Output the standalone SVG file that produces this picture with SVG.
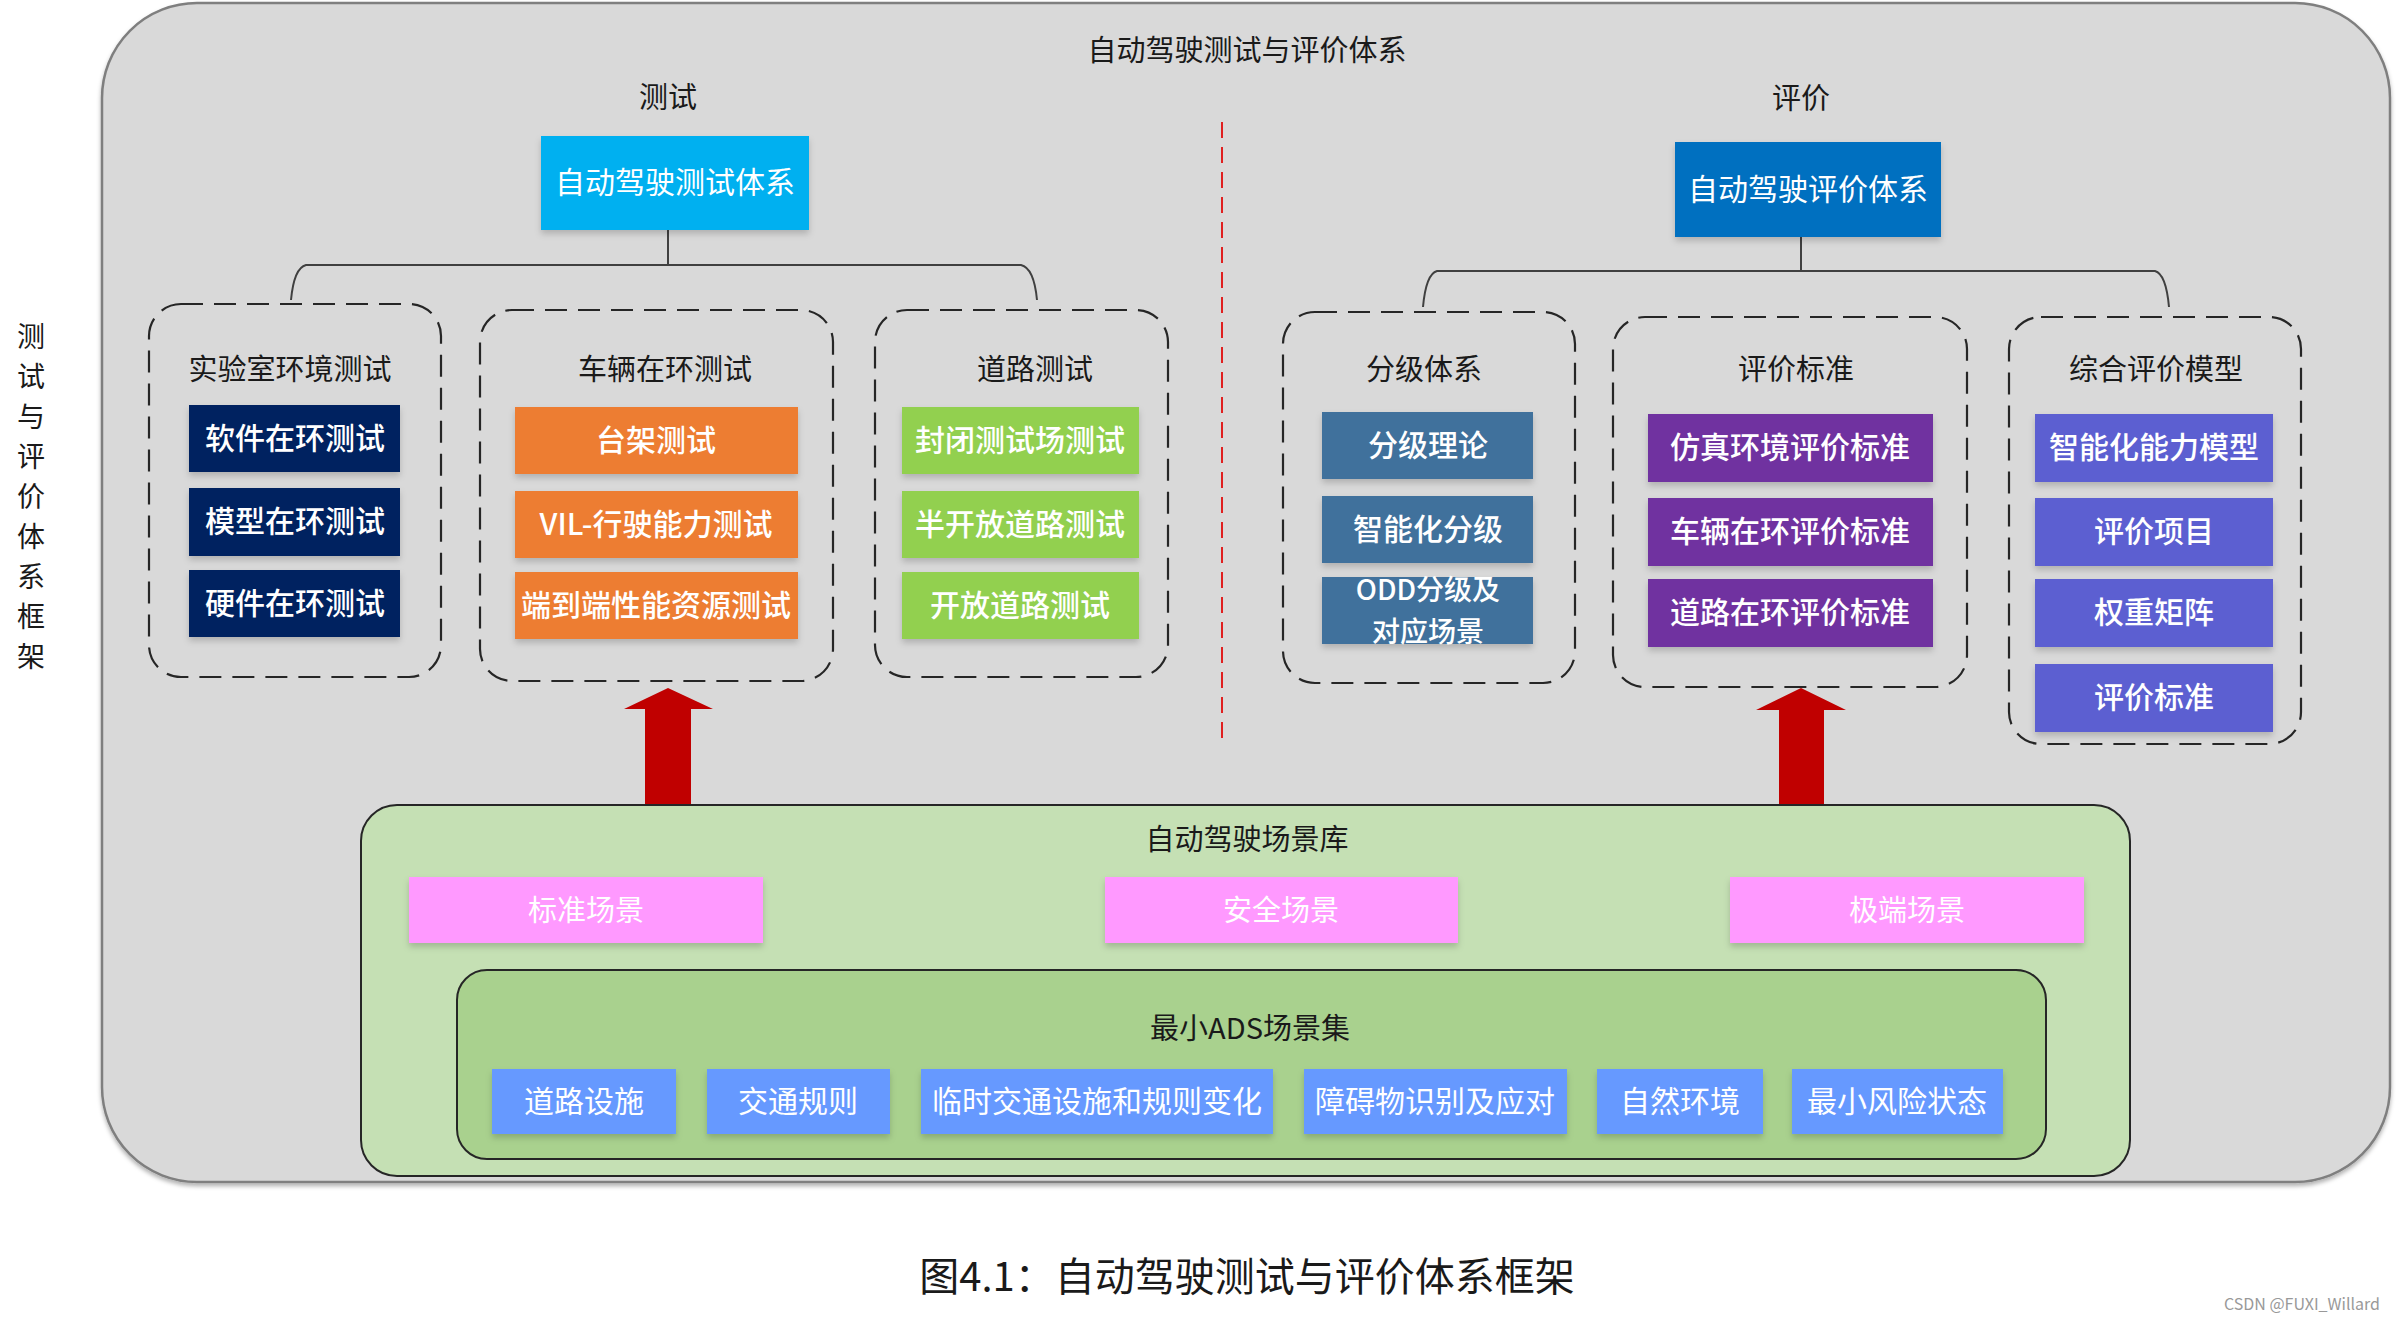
<svg xmlns="http://www.w3.org/2000/svg" width="2398" height="1322" viewBox="0 0 2398 1322">
<defs>
<filter id="sh" x="-10%" y="-20%" width="120%" height="150%">
<feDropShadow dx="0" dy="4" stdDeviation="3" flood-color="#000" flood-opacity="0.18"/>
</filter>
<filter id="bgsh" x="-5%" y="-5%" width="110%" height="110%">
<feDropShadow dx="0" dy="3" stdDeviation="2" flood-color="#000" flood-opacity="0.3"/>
</filter>
</defs>
<style>
text{font-family:"Noto Sans CJK SC","Noto Sans",sans-serif;text-anchor:middle;dominant-baseline:central}
.t{font-size:29px;fill:#1a1a1a}
.b{font-size:30px;fill:#fff;font-weight:500}
.w{font-size:29px;fill:#fff}
.dash{fill:none;stroke:#262626;stroke-width:2.2;stroke-dasharray:22 11}
.box{filter:url(#sh)}
.navy{fill:#002060}.orange{fill:#ed7d31}.green{fill:#92d050}
.steel{fill:#41719c}.purple{fill:#7030a0}.peri{fill:#5b5fd1}
.pink{fill:#ff99ff}.ads{fill:#6699ff}
.ln{fill:none;stroke:#404040;stroke-width:2}
.arrow{fill:#c00000}
</style>
<rect width="2398" height="1322" fill="#fff"/>

<g id="background">
<rect x="102" y="3" width="2288" height="1179" rx="95" ry="95" fill="#d9d9d9" stroke="#7f7f7f" stroke-width="2.5" filter="url(#bgsh)"/>
<text class="t" x="1247" y="48">自动驾驶测试与评价体系</text>
<text class="t" x="668" y="95">测试</text>
<text class="t" x="1801" y="96">评价</text>
</g>

<g id="side-label">
<text class="t" x="31" y="335" style="font-size:28px">测</text>
<text class="t" x="31" y="375" style="font-size:28px">试</text>
<text class="t" x="31" y="415" style="font-size:28px">与</text>
<text class="t" x="31" y="455" style="font-size:28px">评</text>
<text class="t" x="31" y="495" style="font-size:28px">价</text>
<text class="t" x="31" y="535" style="font-size:28px">体</text>
<text class="t" x="31" y="575" style="font-size:28px">系</text>
<text class="t" x="31" y="615" style="font-size:28px">框</text>
<text class="t" x="31" y="655" style="font-size:28px">架</text>
</g>

<g id="connectors">
<line x1="1222" y1="122" x2="1222" y2="746" stroke="#e02020" stroke-width="2" stroke-dasharray="16 9"/>
<path class="ln" d="M668,230 V265"/>
<path class="ln" d="M291,300 Q294,268 306,265 H1021 Q1034,268 1037,300"/>
<path class="ln" d="M1801,237 V271"/>
<path class="ln" d="M1423,307 Q1426,274 1437,271 H2155 Q2166,274 2169,307"/>
<polygon class="arrow" points="668,688 713,709 691,709 691,806 645,806 645,709 624,709"/>
<polygon class="arrow" points="1801,688 1846,710 1824,710 1824,806 1779,806 1779,710 1756,710"/>
</g>

<g id="test-system">
<rect class="box" x="541" y="136" width="268" height="94" fill="#00b0f0"/>
<text class="b" x="675" y="180" style="font-weight:normal">自动驾驶测试体系</text>
</g>
<g id="eval-system">
<rect class="box" x="1675" y="142" width="266" height="95" fill="#0070c0"/>
<text class="b" x="1808" y="187" style="font-weight:normal">自动驾驶评价体系</text>
</g>

<g id="lab-test">
<rect class="dash" x="149" y="304" width="292" height="373" rx="32"/>
<text class="t" x="290" y="367">实验室环境测试</text>
<rect class="box navy" x="189" y="405" width="211" height="67"/>
<text class="b" x="295" y="436">软件在环测试</text>
<rect class="box navy" x="189" y="488" width="211" height="68"/>
<text class="b" x="295" y="519">模型在环测试</text>
<rect class="box navy" x="189" y="570" width="211" height="67"/>
<text class="b" x="295" y="601">硬件在环测试</text>
</g>

<g id="vehicle-test">
<rect class="dash" x="480" y="310" width="353" height="371" rx="32"/>
<text class="t" x="665" y="367">车辆在环测试</text>
<rect class="box orange" x="515" y="407" width="283" height="67"/>
<text class="b" x="656" y="438">台架测试</text>
<rect class="box orange" x="515" y="491" width="283" height="67"/>
<text class="b" x="656" y="522">VIL-行驶能力测试</text>
<rect class="box orange" x="515" y="572" width="283" height="67"/>
<text class="b" x="656" y="603">端到端性能资源测试</text>
</g>

<g id="road-test">
<rect class="dash" x="875" y="310" width="293" height="367" rx="32"/>
<text class="t" x="1035" y="367">道路测试</text>
<rect class="box green" x="902" y="407" width="237" height="67"/>
<text class="b" x="1020" y="438">封闭测试场测试</text>
<rect class="box green" x="902" y="491" width="237" height="67"/>
<text class="b" x="1020" y="522">半开放道路测试</text>
<rect class="box green" x="902" y="572" width="237" height="67"/>
<text class="b" x="1020" y="603">开放道路测试</text>
</g>

<g id="grading">
<rect class="dash" x="1283" y="312" width="292" height="371" rx="32"/>
<text class="t" x="1424" y="367">分级体系</text>
<rect class="box steel" x="1322" y="412" width="211" height="67"/>
<text class="b" x="1428" y="443">分级理论</text>
<rect class="box steel" x="1322" y="496" width="211" height="67"/>
<text class="b" x="1428" y="527">智能化分级</text>
<rect class="box steel" x="1322" y="577" width="211" height="67"/>
<text class="b" x="1428" y="588" style="font-size:28px">ODD分级及</text>
<text class="b" x="1428" y="630" style="font-size:28px">对应场景</text>
</g>

<g id="eval-standard">
<rect class="dash" x="1613" y="317" width="354" height="370" rx="32"/>
<text class="t" x="1796" y="367">评价标准</text>
<rect class="box purple" x="1648" y="414" width="285" height="68"/>
<text class="b" x="1790" y="445">仿真环境评价标准</text>
<rect class="box purple" x="1648" y="498" width="285" height="68"/>
<text class="b" x="1790" y="529">车辆在环评价标准</text>
<rect class="box purple" x="1648" y="579" width="285" height="68"/>
<text class="b" x="1790" y="610">道路在环评价标准</text>
</g>

<g id="eval-model">
<rect class="dash" x="2009" y="317" width="292" height="427" rx="32"/>
<text class="t" x="2156" y="367">综合评价模型</text>
<rect class="box peri" x="2035" y="414" width="238" height="68"/>
<text class="b" x="2154" y="445">智能化能力模型</text>
<rect class="box peri" x="2035" y="498" width="238" height="68"/>
<text class="b" x="2154" y="529">评价项目</text>
<rect class="box peri" x="2035" y="579" width="238" height="68"/>
<text class="b" x="2154" y="610">权重矩阵</text>
<rect class="box peri" x="2035" y="664" width="238" height="68"/>
<text class="b" x="2154" y="695">评价标准</text>
</g>

<g id="scenario-library">
<rect x="361" y="805" width="1769" height="371" rx="36" fill="#c5e0b4" stroke="#262626" stroke-width="2"/>
<text class="t" x="1247" y="837">自动驾驶场景库</text>
<rect class="box pink" x="409" y="877" width="354" height="66"/>
<text class="w" x="586" y="908">标准场景</text>
<rect class="box pink" x="1105" y="877" width="353" height="66"/>
<text class="w" x="1281" y="908">安全场景</text>
<rect class="box pink" x="1730" y="877" width="354" height="66"/>
<text class="w" x="1907" y="908">极端场景</text>
</g>

<g id="min-ads-set">
<rect x="457" y="970" width="1589" height="189" rx="30" fill="#a9d18e" stroke="#262626" stroke-width="2"/>
<text class="t" x="1250" y="1026">最小ADS场景集</text>
<rect class="box ads" x="492" y="1069" width="184" height="65"/>
<text class="b" x="584" y="1099" style="font-weight:normal">道路设施</text>
<rect class="box ads" x="707" y="1069" width="183" height="65"/>
<text class="b" x="798" y="1099" style="font-weight:normal">交通规则</text>
<rect class="box ads" x="921" y="1069" width="352" height="65"/>
<text class="b" x="1097" y="1099" style="font-weight:normal">临时交通设施和规则变化</text>
<rect class="box ads" x="1304" y="1069" width="263" height="65"/>
<text class="b" x="1435" y="1099" style="font-weight:normal">障碍物识别及应对</text>
<rect class="box ads" x="1597" y="1069" width="166" height="65"/>
<text class="b" x="1680" y="1099" style="font-weight:normal">自然环境</text>
<rect class="box ads" x="1792" y="1069" width="211" height="65"/>
<text class="b" x="1897" y="1099" style="font-weight:normal">最小风险状态</text>
</g>

<g id="caption">
<text x="1247" y="1274" style="font-size:40px;fill:#1a1a1a">图4.1：自动驾驶测试与评价体系框架</text>
<text x="2302" y="1303" style="font-size:16px;fill:#999">CSDN @FUXI_Willard</text>
</g>
</svg>
